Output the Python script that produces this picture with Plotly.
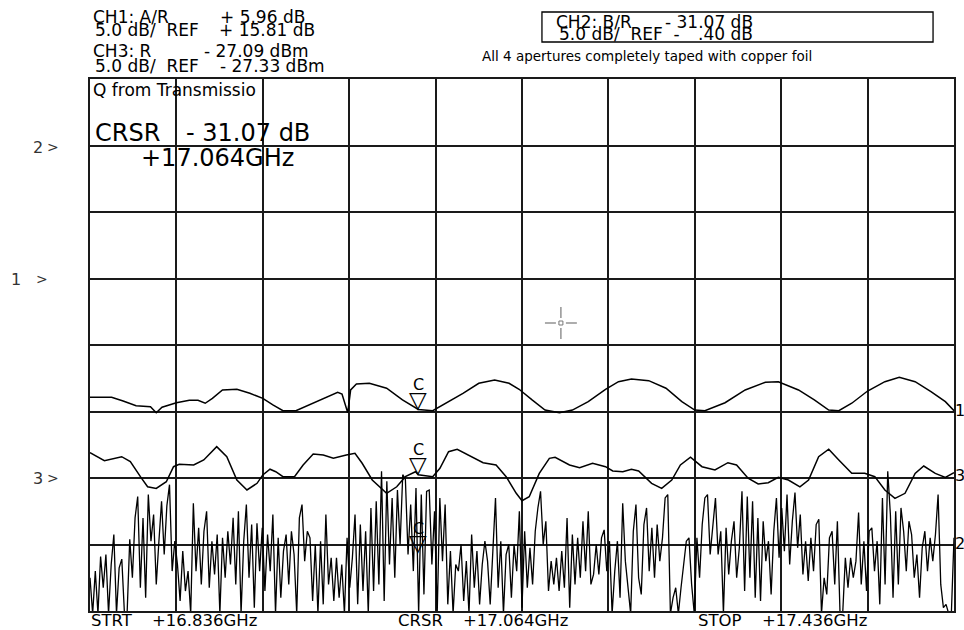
import numpy as np
import plotly.graph_objects as go

# ---------------- data ----------------
F_START, F_STOP = 16.836, 17.436          # GHz
F_CURSOR = 17.064

# channel reference values (dB / dBm) and scale
CH1_REF, CH2_REF, CH3_REF = 15.81, -0.40, -27.33
SCALE_DB_PER_DIV = 5.0

# CH1 : A/R (dB)
ch1_freq = [16.836, 16.851, 16.859, 16.868, 16.878, 16.882, 16.886, 16.896, 16.905, 16.911,
            16.916, 16.921, 16.928, 16.938, 16.947, 16.956, 16.963, 16.970, 16.979, 16.991,
            17.000, 17.008, 17.011, 17.014, 17.015, 17.017, 17.021, 17.030, 17.042, 17.053,
            17.062, 17.064, 17.074, 17.083, 17.095, 17.106, 17.117, 17.127, 17.134, 17.143,
            17.152, 17.162, 17.171, 17.182, 17.194, 17.203, 17.212, 17.224, 17.236, 17.247,
            17.256, 17.263, 17.277, 17.291, 17.305, 17.314, 17.328, 17.339, 17.349, 17.356,
            17.365, 17.376, 17.388, 17.398, 17.409, 17.420, 17.430, 17.436]
ch1_db = [6.88, 6.88, 6.60, 6.25, 6.17, 5.72, 6.13, 6.47, 6.65, 6.65,
          6.43, 6.80, 7.43, 7.48, 7.18, 6.80, 6.30, 5.87, 5.87, 6.43,
          6.88, 7.26, 7.13, 5.92, 5.72, 7.43, 7.88, 7.93, 7.56, 6.68,
          6.05, 5.96, 5.87, 6.43, 7.18, 7.93, 8.18, 7.93, 7.48, 6.68,
          5.92, 5.72, 5.92, 6.55, 7.48, 8.05, 8.26, 8.13, 7.56, 6.55,
          5.92, 5.87, 6.47, 7.43, 8.01, 8.05, 7.43, 6.68, 5.92, 5.87,
          6.43, 7.35, 8.05, 8.39, 8.05, 7.30, 6.55, 5.87]

# CH3 : R (dBm)
ch3_freq = [16.836, 16.846, 16.858, 16.864, 16.871, 16.876, 16.882, 16.889, 16.894, 16.898,
            16.908, 16.915, 16.924, 16.931, 16.938, 16.945, 16.952, 16.956, 16.961, 16.965,
            16.970, 16.978, 16.984, 16.991, 16.998, 17.005, 17.014, 17.020, 17.025, 17.032,
            17.042, 17.049, 17.055, 17.062, 17.064, 17.074, 17.079, 17.085, 17.091, 17.099,
            17.109, 17.118, 17.125, 17.132, 17.136, 17.141, 17.148, 17.155, 17.159, 17.169,
            17.176, 17.185, 17.194, 17.199, 17.206, 17.212, 17.217, 17.226, 17.233, 17.240,
            17.246, 17.253, 17.261, 17.270, 17.279, 17.285, 17.293, 17.300, 17.307, 17.314,
            17.321, 17.329, 17.335, 17.342, 17.349, 17.356, 17.365, 17.374, 17.381, 17.388,
            17.395, 17.402, 17.409, 17.415, 17.423, 17.430, 17.436]
ch3_dbm = [-25.42, -26.03, -25.73, -26.10, -27.23, -27.99, -28.11, -27.61, -26.48, -26.30,
           -26.35, -25.97, -24.97, -25.73, -27.48, -28.23, -27.73, -27.10, -26.67, -26.86,
           -27.23, -27.23, -26.35, -25.52, -25.60, -25.85, -25.60, -25.47, -26.22, -27.48,
           -28.48, -27.99, -27.23, -26.86, -27.09, -27.23, -26.60, -25.35, -25.17, -25.60,
           -26.18, -26.35, -27.23, -28.48, -29.04, -28.74, -26.98, -25.85, -25.77, -26.35,
           -26.55, -26.22, -26.48, -26.80, -26.86, -26.67, -26.80, -27.73, -28.11, -27.48,
           -26.35, -25.77, -26.48, -26.73, -26.18, -26.35, -27.35, -27.78, -27.68, -27.28,
           -27.48, -27.99, -27.48, -25.73, -25.17, -25.97, -26.98, -26.98, -27.23, -28.23,
           -28.86, -28.48, -26.98, -26.43, -26.98, -27.28, -26.93]

# CH2 : B/R (dB), evenly spaced sweep points (values below the screen bottom are clipped)
ch2_db = [
    -32.9, -35.6, -32.4, -35.6, -31.3, -33.65, -31.15, -35.6, -31.9, -29.65, -35.6, -32.15, -31.5, -35.6,
    -35.6, -30.0, -32.9, -28.4, -26.8, -33.65, -28.4, -34.4, -26.65, -30.15, -28.15, -33.4, -30.15, -27.15,
    -31.15, -27.5, -25.9, -32.4, -30.15, -31.9, -34.65, -30.9, -33.9, -32.4, -35.6, -27.3, -32.4, -29.15,
    -33.4, -29.4, -27.9, -33.65, -30.15, -32.65, -29.65, -35.6, -29.9, -32.9, -29.4, -31.9, -28.4, -33.4,
    -27.9, -35.6, -30.15, -27.4, -32.9, -28.9, -35.15, -28.8, -32.4, -29.15, -33.9, -29.65, -32.4, -28.15,
    -35.6, -29.9, -34.4, -30.9, -29.65, -33.4, -29.4, -31.15, -35.6, -28.4, -27.4, -31.65, -29.4,
    -29.9, -34.65, -30.4, -35.6, -30.15, -34.9, -28.15, -33.4, -31.4, -34.65, -31.4, -34.4, -31.9, -35.6,
    -29.9, -33.65, -31.4, -28.15, -34.9, -28.9, -33.9, -29.4, -35.6, -27.65, -33.9, -27.15, -33.4, -24.9,
    -34.65, -25.65, -31.9, -26.9, -32.9, -26.3, -30.4, -25.15, -25.5, -31.15, -27.4, -32.4, -26.15, -35.6,
    -26.65, -34.15, -26.4, -26.3, -31.9, -27.9, -35.6, -26.9, -31.65, -27.4, -34.9, -30.9, -35.6, -31.9,
    -32.4, -30.4, -34.65, -31.65, -35.6, -29.65, -33.65, -30.9, -34.9, -31.9, -30.15, -31.65, -34.9, -30.9,
    -26.9, -33.65, -30.15, -35.6, -31.15, -30.4, -34.4, -30.4, -32.4, -27.9, -35.15, -29.4,
    -33.65, -30.65, -33.4, -29.4, -27.65, -26.4, -30.4, -28.65, -33.9, -31.65, -33.4, -31.4, -33.9, -30.9,
    -33.65, -28.4, -35.15, -29.65, -33.4, -29.9, -32.9, -28.65, -32.4, -27.9, -33.4, -32.65, -30.4, -32.65,
    -29.9, -29.3, -32.4, -30.15, -35.6, -32.4, -30.15, -34.4, -27.3, -31.65, -33.4, -35.6, -29.4, -27.4,
    -32.9, -34.15, -28.9, -27.65, -32.4, -29.15, -32.9, -28.9, -31.65, -29.9, -26.9, -26.65, -35.6, -34.4,
    -33.65, -35.6, -33.65, -31.9, -30.15, -29.9, -33.4, -35.6, -29.9, -32.9, -28.9, -26.9, -26.65, -31.15,
    -29.15, -26.9, -31.15, -29.4, -35.6, -29.15, -32.65, -30.15, -28.65, -32.9, -30.65,
    -26.4, -33.9, -26.8, -32.9, -27.15, -34.4, -28.4, -34.65, -28.65, -31.65, -30.15, -34.15, -29.4, -26.9,
    -31.4, -27.65, -30.9, -26.65, -31.9, -28.65, -26.5, -30.65, -28.15, -32.65, -30.15, -33.15, -29.9, -32.4,
    -28.9, -28.5, -35.6, -32.9, -34.15, -29.9, -29.4, -33.4, -28.65, -35.6, -35.6, -31.4, -33.65, -31.4,
    -32.9, -31.65, -28.0, -33.4, -30.15, -33.9, -29.4, -29.15, -32.4, -30.15, -34.9, -26.9, -33.4, -24.9,
    -28.15, -34.4, -27.9, -33.4, -27.65, -29.4, -32.4, -28.65, -29.65, -32.9, -31.15, -34.4, -30.65, -29.4,
    -32.4, -29.9, -31.65, -29.65, -26.65, -33.4, -35.15, -34.9, -35.6, -35.6, -29.9]
ch2_freq = np.linspace(F_START, F_STOP, len(ch2_db))

CURSOR_VALUES = {"ch1": 5.96, "ch2": -31.07, "ch3": -27.09}

# ---------------- geometry helpers ----------------
W, H = 964, 630
L, R, T, B = 90, 956, 79, 611      # plot area in pixels
NDIV_Y = 8


def px(x):
    return (x - L) / (R - L)


def py(y):
    return (B - y) / (B - T)


def yrange(ref, ref_div):
    lo = ref - ref_div * SCALE_DB_PER_DIV
    return [lo, lo + NDIV_Y * SCALE_DB_PER_DIV]


r1 = yrange(CH1_REF, 5)
r2 = yrange(CH2_REF, 7)
r3 = yrange(CH3_REF, 2)

LINE = "#000000"
GRID = "#1a1a1a"
FONT = "DejaVu Sans"

fig = go.Figure()
fig.add_trace(go.Scatter(x=ch1_freq, y=ch1_db, mode="lines", yaxis="y",
                         line=dict(color=LINE, width=1.5), hoverinfo="skip"))
fig.add_trace(go.Scatter(x=ch3_freq, y=ch3_dbm, mode="lines", yaxis="y3",
                         line=dict(color=LINE, width=1.5), hoverinfo="skip"))
fig.add_trace(go.Scatter(x=ch2_freq, y=ch2_db, mode="lines", yaxis="y2",
                         line=dict(color=LINE, width=1.3), hoverinfo="skip"))

ann = []


def txt(text, x, y, size=17, anchor="left", color="#000", family=FONT, bold=False):
    ann.append(dict(text=f"<b>{text}</b>" if bold else text, x=px(x), y=py(y),
                    xref="paper", yref="paper",
                    xanchor=anchor, yanchor="middle", showarrow=False,
                    font=dict(family=family, size=size, color=color)))


# header texts
txt("CH1: A/R", 91, 17, 17)
txt("+ 5.96 dB", 308, 17, 17, "right")
txt("5.0 dB/\u00a0\u00a0REF", 93, 30, 17)
txt("+ 15.81 dB", 318, 30, 17, "right")
txt("CH3: R", 91, 51, 17)
txt("- 27.09 dBm", 312, 51, 17, "right")
txt("5.0 dB/\u00a0\u00a0REF", 93, 66, 17)
txt("- 27.33 dBm", 328, 66, 17, "right")

txt("CH2: B/R", 555, 22, 17)
txt("- 31.07 dB", 757, 22, 17, "right")
txt("5.0 dB/\u00a0\u00a0REF\u00a0\u00a0-", 558, 34, 17)
txt(".40 dB", 757, 34, 17, "right")

txt("All 4 apertures completely taped with copper foil", 648, 56, 13.5, "center")

txt("Q from Transmissio", 91, 90, 17)
txt("CRSR", 93, 133, 24)
txt("- 31.07 dB", 184, 133, 24)
txt("+17.064GHz", 139, 158, 24)

# left reference markers
for lab, xl, xg, yy in (("2", 31, 45, 147), ("1", 9, 34, 279), ("3", 31, 45, 478)):
    txt(lab, xl, yy, 16, color="#333")
    txt(">", xg, yy, 14, color="#333")

# right trace-end labels
for lab, yy in (("1", 410), ("3", 475), ("2", 543)):
    txt(lab, 955, yy, 16)

# bottom labels
txt("STRT", 89, 620, 16.5)
txt("+16.836GHz", 150, 620, 16.5)
txt("CRSR", 397, 620, 16.5)
txt("+17.064GHz", 462, 620, 16.5)
txt("STOP", 697, 620, 16.5)
txt("+17.436GHz", 762, 620, 16.5)

# cursor markers on the traces
for yref, val in (("y", CURSOR_VALUES["ch1"]), ("y3", CURSOR_VALUES["ch3"]), ("y2", CURSOR_VALUES["ch2"])):
    ann.append(dict(text="\u25bd", x=F_CURSOR, y=val, xref="x", yref=yref, xanchor="center",
                    yanchor="bottom", showarrow=False, yshift=-5,
                    font=dict(family=FONT, size=23, color="#000")))
    ann.append(dict(text="C", x=F_CURSOR, y=val, xref="x", yref=yref, xanchor="center",
                    yanchor="middle", showarrow=False, yshift=25,
                    font=dict(family=FONT, size=16, color="#000")))

shapes = []
# CH2 box
shapes.append(dict(type="rect", xref="paper", yref="paper", x0=px(543), x1=px(935),
                   y0=py(12), y1=py(42), line=dict(color="#000", width=1.3)))
# crosshair
cx, cy = 562, 323
for (x0, y0, x1, y1) in ((cx - 16, cy, cx - 5, cy), (cx + 5, cy, cx + 16, cy),
                         (cx, cy - 16, cx, cy - 5), (cx, cy + 5, cx, cy + 16)):
    shapes.append(dict(type="line", xref="paper", yref="paper", x0=px(x0), y0=py(y0),
                       x1=px(x1), y1=py(y1), line=dict(color="#777", width=1.2)))
shapes.append(dict(type="rect", xref="paper", yref="paper", x0=px(cx - 2), x1=px(cx + 2),
                   y0=py(cy - 2), y1=py(cy + 2), line=dict(color="#777", width=1)))

axis_common = dict(showticklabels=False, ticks="", zeroline=False)
fig.update_layout(
    width=W, height=H,
    margin=dict(l=L, r=W - R, t=T, b=H - B, pad=0),
    paper_bgcolor="white", plot_bgcolor="white",
    showlegend=False,
    xaxis=dict(range=[F_START, F_STOP], tick0=F_START, dtick=(F_STOP - F_START) / 10,
               showgrid=True, gridcolor=GRID, gridwidth=1.8,
               showline=True, linecolor=GRID, linewidth=1.8, mirror=True, **axis_common),
    yaxis=dict(range=r1, tick0=r1[0], dtick=SCALE_DB_PER_DIV,
               showgrid=True, gridcolor=GRID, gridwidth=1.8,
               showline=True, linecolor=GRID, linewidth=1.8, mirror=True, **axis_common),
    yaxis2=dict(range=r2, overlaying="y", showgrid=False, visible=False, **axis_common),
    yaxis3=dict(range=r3, overlaying="y", showgrid=False, visible=False, **axis_common),
    annotations=ann,
    shapes=shapes,
)

fig.write_html("out.html")
